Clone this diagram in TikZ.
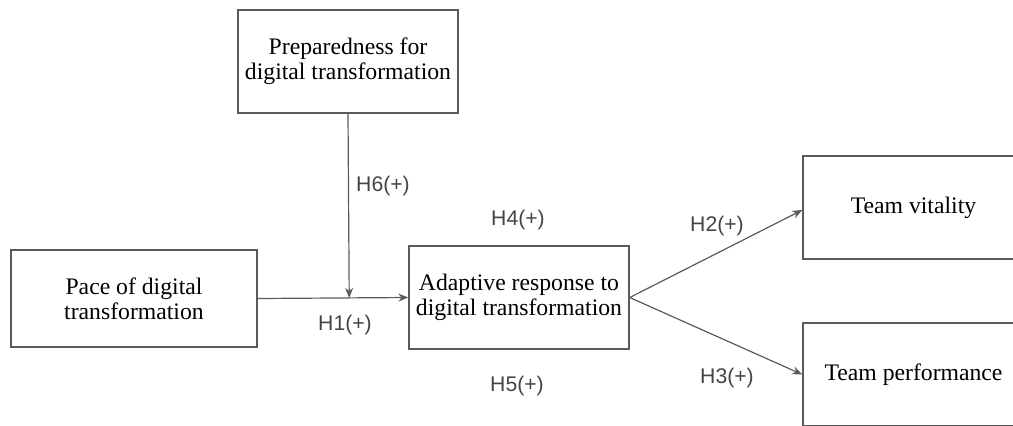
\documentclass[tikz,border=0pt]{standalone}
\usepackage{fontspec}
\setmainfont{Liberation Serif}
\newfontfamily\lblfont{Liberation Sans}
\usetikzlibrary{arrows.meta,calc}
\definecolor{linegray}{HTML}{5A5A5A}
\definecolor{labelgray}{HTML}{444444}
\tikzset{
  box/.style={draw=linegray, line width=0.7pt, rectangle, align=center, inner sep=0pt,
    font=\fontsize{11.85}{12.6}\selectfont, text=black},
  conn/.style={draw=linegray, line width=0.6pt, -{Stealth[length=5pt,width=4pt]}},
  hlabel/.style={font=\lblfont\fontsize{10.6}{12}\selectfont, text=labelgray, inner sep=0pt}
}
\begin{document}
\begin{tikzpicture}[x=0.5pt,y=-0.5pt]
\useasboundingbox (0,0) rectangle (1013,425);
\clip (0,0) rectangle (1013,425);
\node[box, minimum width=110pt, minimum height=51.5pt] (prep) at (348,61.5) {Preparedness for\\digital transformation};
\node[box, minimum width=123pt, minimum height=48.5pt] (pace) at (134,298.5) {Pace of digital\\transformation};
\node[box, minimum width=110pt, minimum height=51.5pt] (adapt) at (519,297.5) {Adaptive response to\\digital transformation};
\node[box, minimum width=110.5pt, minimum height=51.5pt] (vital) at (913.5,207.5) {Team vitality};
\node[box, minimum width=110.5pt, minimum height=51.5pt] (perf) at (913.5,374.5) {Team performance};
\coordinate (m) at ($(pace.east)!(prep.south)!(adapt.west)$);
\draw[conn] (pace.east) -- (adapt.west);
\draw[conn] (prep.south) -- (m);
\draw[conn] (adapt.east) -- ($(vital.west)+(0,2.5)$);
\draw[conn] (adapt.east) -- (perf.west);
\node[hlabel] (h6) at (383,186) {H6(+)};
\node[hlabel] (h4) at (518,220) {H4(+)};
\node[hlabel] (h2) at (717,226) {H2(+)};
\node[hlabel] (h1) at (345,325) {H1(+)};
\node[hlabel] (h5) at (517,386) {H5(+)};
\node[hlabel] (h3) at (727,378) {H3(+)};
\end{tikzpicture}
\end{document}
